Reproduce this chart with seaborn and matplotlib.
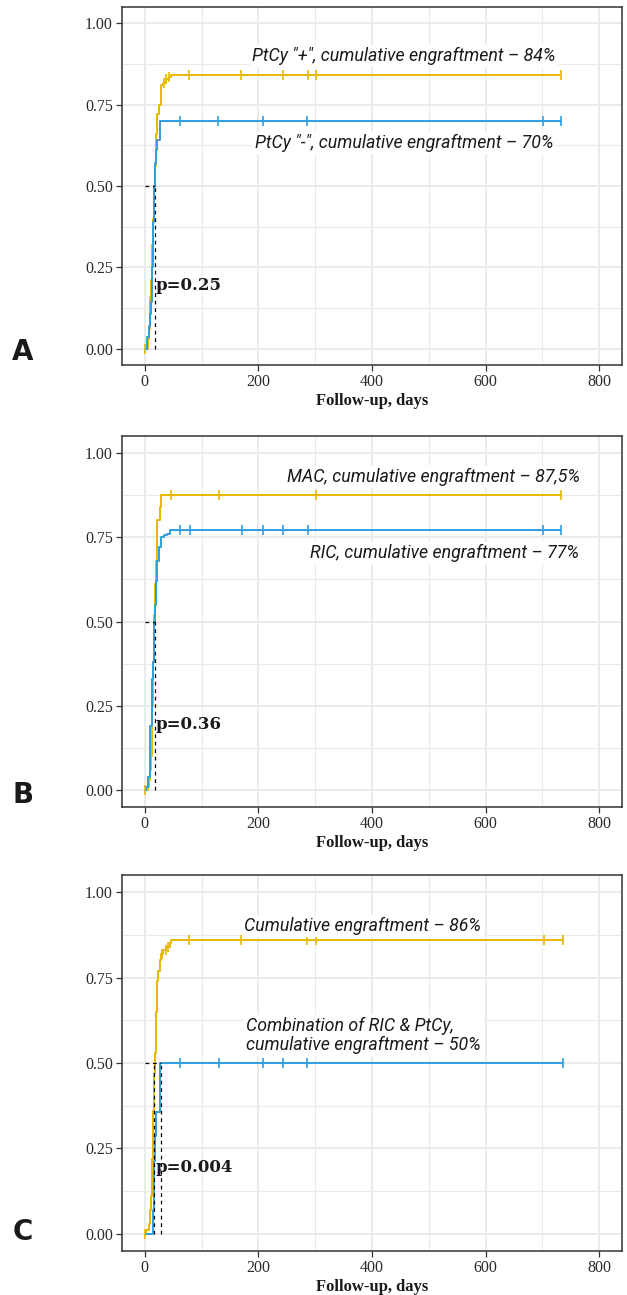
import numpy as np
import pandas as pd
import matplotlib
matplotlib.use("Agg")
import matplotlib.pyplot as plt
import seaborn as sns

# ---- data -------------------------------------------------------------
# Panel A: PtCy "+" vs PtCy "-"
a_pos_t = [0, 5, 8, 9, 10, 11, 12, 13, 14, 15, 16, 17, 18, 19, 20, 22, 25, 28, 32, 35, 38, 42, 46]
a_pos_y = [0, .03, .06, .11, .16, .21, .27, .32, .37, .40, .46, .50, .56, .62, .66, .72, .75, .81, .815, .82, .83, .835, .84]
a_pos_cens = [0, 34, 38, 43, 78, 170, 243, 287, 301, 733]
a_neg_t = [0, 4, 8, 10, 11, 12, 13, 14, 15, 16, 17, 18, 20, 22, 27]
a_neg_y = [0, .036, .071, .107, .143, .214, .25, .32, .39, .46, .50, .57, .61, .64, .70]
a_neg_cens = [62, 129, 208, 286, 701, 733]
a_median = [18]
a_p = "p=0.25"
a_labels = ['PtCy "+", cumulative engraftment – 84%', 'PtCy "-", cumulative engraftment – 70%']

# Panel B: MAC vs RIC
b_mac_t = [0, 5, 8, 10, 11, 12, 13, 14, 15, 16, 17, 18, 20, 22, 26, 28]
b_mac_y = [0, .01, .03, .06, .10, .19, .25, .32, .38, .44, .52, .61, .68, .80, .84, .875]
b_mac_cens = [0, 46, 131, 302, 733]
b_ric_t = [0, 3, 6, 9, 10, 12, 13, 14, 16, 17, 18, 20, 22, 25, 28, 34, 39, 45]
b_ric_y = [0, .01, .04, .09, .19, .28, .33, .38, .45, .50, .55, .62, .68, .72, .75, .755, .76, .77]
b_ric_cens = [62, 79, 171, 208, 243, 287, 701, 733]
b_median = [18]
b_p = "p=0.36"
b_labels = ["MAC, cumulative engraftment – 87,5%", "RIC, cumulative engraftment – 77%"]

# Panel C: all others vs RIC & PtCy combination
c_all_t = [0, 3, 8, 10, 11, 12, 13, 14, 15, 16, 17, 18, 19, 20, 21, 22, 24, 26, 28, 32, 38, 44, 47]
c_all_y = [0, .01, .03, .07, .11, .16, .22, .30, .36, .42, .47, .53, .58, .65, .70, .74, .77, .80, .82, .83, .84, .85, .86]
c_all_cens = [0, 31, 37, 41, 78, 170, 286, 302, 702, 736]
c_comb_t = [0, 15, 16, 17, 18, 20, 27]
c_comb_y = [0, .071, .143, .214, .286, .357, .50]
c_comb_cens = [62, 130, 209, 244, 286, 736]
c_median = [17, 28.5]
c_p = "p=0.004"
c_labels = ["Cumulative engraftment – 86%", "Combination of RIC & PtCy,\ncumulative engraftment – 50%"]

x_ticks = [0, 200, 400, 600, 800]
y_ticks = [0.00, 0.25, 0.50, 0.75, 1.00]
x_label = "Follow-up, days"
panel_letters = ["A", "B", "C"]

ORANGE = "#E7B800"
BLUE = "#2E9FDF"

# ---- styling ------------------------------------------------------------
sns.set_theme(style="white")
plt.rcParams["font.family"] = ["Liberation Serif", "DejaVu Serif"]

fig = plt.figure(figsize=(6.27, 12.95), dpi=100)
W, H = 627, 1295


def axes_at(top_px, bottom_px, left_px=122, right_px=622):
    return fig.add_axes([left_px / W, 1 - bottom_px / H,
                         (right_px - left_px) / W, (bottom_px - top_px) / H])


def step_value(t, y, at):
    idx = np.searchsorted(np.asarray(t), at, side="right") - 1
    return np.asarray(y)[idx]


def draw_panel(ax, curves, medians, ptext, labels, label_pos, label_ha):
    # background grid: major + minor
    for xv in range(0, 900, 100):
        ax.axvline(xv, color="#EBEBEB", lw=1.4 if xv % 200 == 0 else 0.8, zorder=0)
    for yv in np.arange(0, 1.01, 0.125):
        major = abs((yv / 0.25) - round(yv / 0.25)) < 1e-6
        ax.axhline(yv, color="#EBEBEB", lw=1.4 if major else 0.8, zorder=0)

    for t, y, cens, col in curves:
        end = max(cens)
        df = pd.DataFrame({"time": t + [end], "cuminc": y + [y[-1]]})
        sns.lineplot(data=df, x="time", y="cuminc", drawstyle="steps-post",
                     color=col, lw=1.4, ax=ax, estimator=None, zorder=3)
        cdf = pd.DataFrame({"time": cens, "cuminc": step_value(t, y, cens)})
        sns.scatterplot(data=cdf, x="time", y="cuminc", marker="|", s=60,
                        color=col, linewidth=1.2, ax=ax, zorder=4)

    # median lines
    ax.plot([0, max(medians)], [0.5, 0.5], ls=(0, (3, 3)), color="black", lw=0.9, zorder=5)
    for m in medians:
        ax.plot([m, m], [0, 0.5], ls=(0, (3, 3)), color="black", lw=0.9, zorder=5)

    ax.text(20, 0.195, ptext, fontsize=12, fontweight="bold",
            family=["DejaVu Serif"], va="center", ha="left", color="#1a1a1a", zorder=6)

    for txt, (lx, ly), ha in zip(labels, label_pos, label_ha):
        ax.text(lx, ly, txt, fontsize=12.8, style="italic", family=["Roboto", "DejaVu Sans"],
                ha=ha, va="center", color="#1a1a1a", linespacing=1.05, zorder=6,
                bbox=dict(facecolor="white", edgecolor="none", pad=1.5))

    ax.set_xlim(-40, 840)
    ax.set_ylim(-0.05, 1.05)
    ax.set_xticks(x_ticks)
    ax.set_yticks(y_ticks)
    ax.set_xticklabels([str(v) for v in x_ticks])
    ax.set_yticklabels([f"{v:.2f}" for v in y_ticks])
    ax.tick_params(axis="both", which="major", length=4, width=0.9, color="#333333",
                   labelsize=11.5, labelcolor="#2a2a2a", pad=2.5, left=True, bottom=True)
    ax.set_xlabel(x_label, fontsize=12, fontweight="bold", color="#1a1a1a", labelpad=2)
    ax.set_ylabel("")
    for sp in ax.spines.values():
        sp.set_visible(True)
        sp.set_color("#333333")
        sp.set_linewidth(1.1)
    ax.grid(False)


ax_a = axes_at(7, 365)
draw_panel(ax_a,
           [(a_pos_t, a_pos_y, a_pos_cens, ORANGE), (a_neg_t, a_neg_y, a_neg_cens, BLUE)],
           a_median, a_p, a_labels, [(456, 0.90), (456, 0.633)], ["center", "center"])

ax_b = axes_at(436, 807)
draw_panel(ax_b,
           [(b_mac_t, b_mac_y, b_mac_cens, ORANGE), (b_ric_t, b_ric_y, b_ric_cens, BLUE)],
           b_median, b_p, b_labels, [(508, 0.928), (528, 0.703)], ["center", "center"])

ax_c = axes_at(875, 1251)
draw_panel(ax_c,
           [(c_all_t, c_all_y, c_all_cens, ORANGE), (c_comb_t, c_comb_y, c_comb_cens, BLUE)],
           c_median, c_p, c_labels, [(384, 0.901), (179, 0.581)], ["center", "left"])

for letter, ypx in zip(panel_letters, [352, 795, 1232]):
    fig.text(23 / W, 1 - ypx / H, letter, fontsize=20, fontweight="bold",
             family=["Liberation Sans Narrow", "DejaVu Sans"], ha="center", va="center",
             color="#1a1a1a")

fig.savefig("out.png", dpi=100)
